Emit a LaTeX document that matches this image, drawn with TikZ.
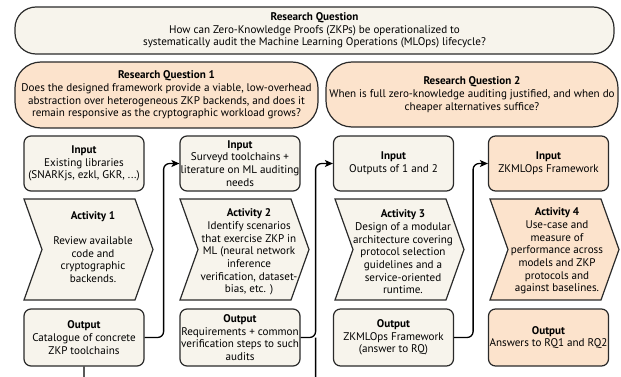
\documentclass[tikz,border=0pt]{standalone}
\usepackage{fontspec}
\setmainfont{PT Sans}
\usetikzlibrary{arrows.meta}
\definecolor{beige}{HTML}{F7F4EC}
\definecolor{peach}{HTML}{FCE3CC}
\definecolor{edge}{HTML}{2A2A2A}
\newcommand\actshape[2]{% #1 left x, #2 fill colour
  \draw[actline,fill=#2] (#1,199) -- ++(111,0) -- ++(18,50.5) -- ++(-18,50.5)
    -- ++(-111,0) -- ++(18,-50.5) -- cycle;}
\begin{document}
\begin{tikzpicture}[x=1pt,y=-1pt,
  txt/.style={align=center, font=\fontsize{11.1}{12.7}\selectfont, inner sep=0pt},
  box/.style={txt, draw=edge, line width=1.2pt, rounded corners=7pt, fill=beige,
    minimum width=120pt},
  rqbox/.style={box, fill=peach, rounded corners=26pt},
  actline/.style={draw=edge, line width=1.2pt, line join=miter},
  conn/.style={draw=black, line width=1.3pt, rounded corners=6pt},
  arr/.style={conn, -{Stealth[length=8pt,width=7pt,inset=2pt]}}]
\useasboundingbox (0,0) rectangle (621,377);
\clip (0,0) rectangle (621,377);

% top research question
\node[box, rounded corners=21pt, minimum width=599pt, minimum height=47pt]
  (rq) at (314.5,30.5) {\textbf{Research Question}\\How can Zero-Knowledge Proofs (ZKPs) be operationalized to\\systematically audit the Machine Learning Operations (MLOps) lifecycle?};

\node[rqbox, minimum width=303pt, minimum height=66pt] (rq1) at (166.5,95)
  {\textbf{Research Question 1}\\Does the designed framework provide a viable, low-overhead\\abstraction over heterogeneous ZKP backends, and does it\\remain responsive as the cryptographic workload grows?};
\node[rqbox, minimum width=292pt, minimum height=65pt] (rq2) at (472,94.5)
  {\textbf{Research Question 2}\\When is full zero-knowledge auditing justified, and when do\\cheaper alternatives suffice?};

% inputs
\node[box, minimum height=55pt] (in1) at (84,163.5)
  {\textbf{Input}\\Existing libraries\\(SNARKjs, ezkl, GKR, ...)};
\node[box, minimum height=55pt] (in2) at (240,163.5)
  {\textbf{Input}\\Surveyd toolchains +\\literature on ML auditing\\needs};
\node[box, minimum height=55pt] (in3) at (393.5,163.5)
  {\textbf{Input}\\Outputs of 1 and 2};
\node[box, fill=peach, minimum height=55pt] (in4) at (548.5,163.5)
  {\textbf{Input}\\ZKMLOps Framework};

% activities
\actshape{24}{beige}
\actshape{180}{beige}
\actshape{335}{beige}
\actshape{490}{peach}
\node[txt] (act1) at (93,247)
  {\textbf{Activity 1}\\[12.7pt]Review available\\code and\\cryptographic\\backends.};
\node[txt] (act2) at (249,252)
  {\textbf{Activity 2}\\Identify scenarios\\that exercise ZKP in\\ML (neural network\\inference\\verification, dataset-\\bias, etc. )};
\node[txt] (act3) at (403,252)
  {\textbf{Activity 3}\\Design of a modular\\architecture covering\\protocol selection\\guidelines and a\\service-oriented\\runtime.};
\node[txt] (act4) at (557,251)
  {\textbf{Activity 4}\\Use-case and\\measure of\\performance across\\models and ZKP\\protocols and\\against baselines.};

% outputs
\node[box, minimum height=57pt] (out1) at (84,337.5)
  {\textbf{Output}\\Catalogue of concrete\\ZKP toolchains};
\node[box, minimum height=57pt] (out2) at (240,337.5)
  {\textbf{Output}\\Requirements + common\\verification steps to such\\audits};
\node[box, minimum height=57pt] (out3) at (393.5,337.5)
  {\textbf{Output}\\ZKMLOps Framework\\(answer to RQ)};
\node[box, fill=peach, minimum height=57pt] (out4) at (548.5,337.5)
  {\textbf{Output}\\Answers to RQ1 and RQ2};

% connectors
\coordinate (j2) at ([xshift=15pt]out2.east);
\draw[arr] (out1.east) -- ++(19,0) |- (in2.west);
\draw[arr] (out2.east) -- (j2) |- (in3.west);
\draw[conn] (out1.south) -- ++(0,30) -| (j2);
\draw[arr] (out3.east) -- ++(19,0) |- (in4.west);
\end{tikzpicture}
\end{document}
